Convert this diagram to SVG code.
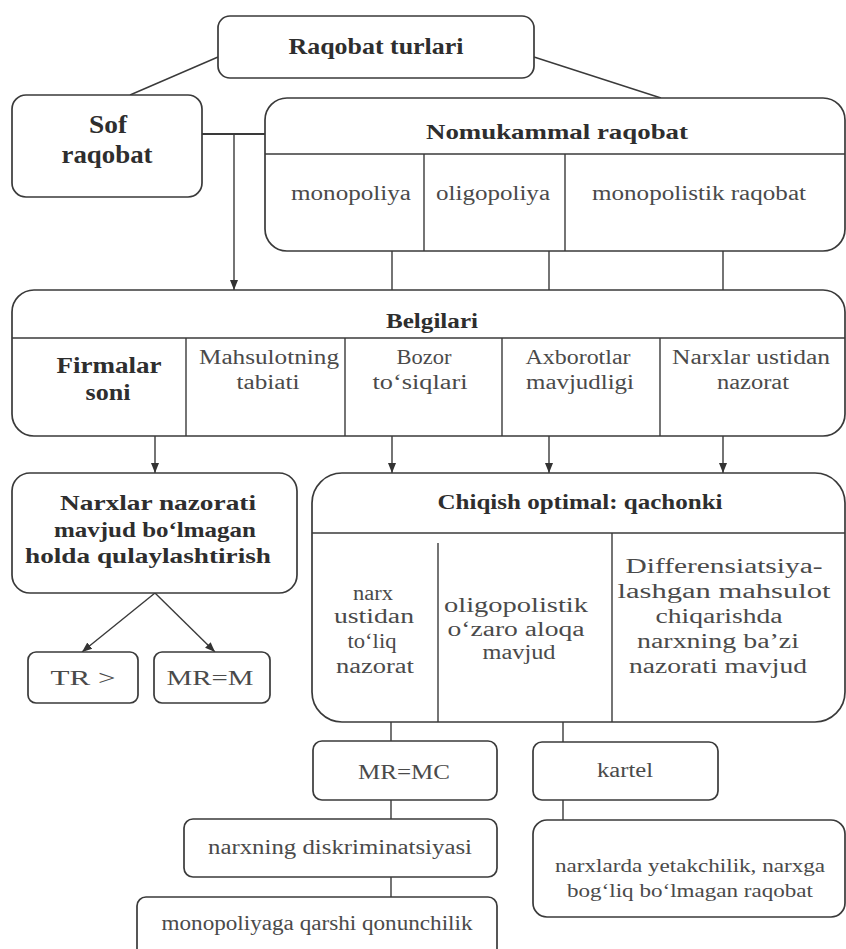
<svg xmlns="http://www.w3.org/2000/svg" width="846" height="949" viewBox="0 0 846 949">
<defs>
<marker id="ah" markerWidth="10" markerHeight="12" refX="10" refY="5" orient="auto" markerUnits="userSpaceOnUse">
<path d="M0,1 L10,5 L0,9 Z" fill="#333"/>
</marker>
<style>
.box{fill:#fff;stroke:#3a3a3a;stroke-width:1.7}
.ln{stroke:#3a3a3a;stroke-width:1.4;fill:none}
text{font-family:"Liberation Serif", "Times New Roman", "DejaVu Serif", serif}
.b{font-weight:bold;fill:#2e2e2e;text-anchor:middle}
.t{fill:#4a4a4a;text-anchor:middle;font-size:20px}
</style>
</defs>
<rect width="846" height="949" fill="#fff"/>
<g id="connectors">
<line class="ln" x1="218" y1="57" x2="130" y2="95"/>
<line class="ln" x1="534" y1="57" x2="661" y2="98"/>
<line class="ln" x1="202" y1="134" x2="265" y2="134" style="stroke-width:2"/>
<line class="ln" x1="234" y1="134" x2="234" y2="290" marker-end="url(#ah)"/>
<line class="ln" x1="392" y1="251" x2="392" y2="290"/>
<line class="ln" x1="549" y1="251" x2="549" y2="290"/>
<line class="ln" x1="723" y1="251" x2="723" y2="290"/>
<line class="ln" x1="155" y1="436" x2="155" y2="473" marker-end="url(#ah)"/>
<line class="ln" x1="392" y1="436" x2="392" y2="473" marker-end="url(#ah)"/>
<line class="ln" x1="549" y1="436" x2="549" y2="473" marker-end="url(#ah)"/>
<line class="ln" x1="723" y1="436" x2="723" y2="473" marker-end="url(#ah)"/>
<line class="ln" x1="155" y1="593" x2="82" y2="652" marker-end="url(#ah)"/>
<line class="ln" x1="155" y1="593" x2="215" y2="652" marker-end="url(#ah)"/>
<line class="ln" x1="391" y1="722" x2="391" y2="741"/>
<line class="ln" x1="563" y1="722" x2="563" y2="742"/>
<line class="ln" x1="391" y1="800" x2="391" y2="819"/>
<line class="ln" x1="563" y1="800" x2="563" y2="820"/>
<line class="ln" x1="391" y1="877" x2="391" y2="897"/>
</g>
<g id="raqobat-turlari">
<rect class="box" x="218" y="16" width="316" height="62" rx="12"/>
<text class="b" x="376" y="54" font-size="23" textLength="175" lengthAdjust="spacingAndGlyphs">Raqobat turlari</text>
</g>
<g id="sof-raqobat">
<rect class="box" x="12" y="95" width="190" height="102" rx="14"/>
<text class="b" x="108" y="133" font-size="25" textLength="38" lengthAdjust="spacingAndGlyphs">Sof</text>
<text class="b" x="107" y="163" font-size="25" textLength="91" lengthAdjust="spacingAndGlyphs">raqobat</text>
</g>
<g id="nomukammal">
<rect class="box" x="265" y="98" width="580" height="153" rx="22"/>
<line class="ln" x1="265" y1="154" x2="845" y2="154"/>
<line class="ln" x1="424" y1="154" x2="424" y2="251"/>
<line class="ln" x1="565" y1="154" x2="565" y2="251"/>
<text class="b" x="557" y="139" font-size="22" textLength="262" lengthAdjust="spacingAndGlyphs">Nomukammal raqobat</text>
<text class="t" x="351" y="200" textLength="120" lengthAdjust="spacingAndGlyphs">monopoliya</text>
<text class="t" x="493" y="200" textLength="114" lengthAdjust="spacingAndGlyphs">oligopoliya</text>
<text class="t" x="699" y="200" textLength="214" lengthAdjust="spacingAndGlyphs">monopolistik raqobat</text>
</g>
<g id="belgilari">
<rect class="box" x="12" y="290" width="833" height="146" rx="22"/>
<line class="ln" x1="12" y1="338" x2="845" y2="338"/>
<line class="ln" x1="186" y1="338" x2="186" y2="436"/>
<line class="ln" x1="345" y1="338" x2="345" y2="436"/>
<line class="ln" x1="502" y1="338" x2="502" y2="436"/>
<line class="ln" x1="660" y1="338" x2="660" y2="436"/>
<text class="b" x="432" y="328" font-size="20" textLength="92" lengthAdjust="spacingAndGlyphs">Belgilari</text>
<text class="b" x="109" y="373" font-size="23" textLength="105" lengthAdjust="spacingAndGlyphs">Firmalar</text>
<text class="b" x="108" y="400" font-size="23" textLength="45" lengthAdjust="spacingAndGlyphs">soni</text>
<text class="t" x="269" y="364" textLength="140" lengthAdjust="spacingAndGlyphs">Mahsulotning</text>
<text class="t" x="268" y="389" textLength="63" lengthAdjust="spacingAndGlyphs">tabiati</text>
<text class="t" x="424" y="364" textLength="55" lengthAdjust="spacingAndGlyphs">Bozor</text>
<text class="t" x="420" y="389" textLength="95" lengthAdjust="spacingAndGlyphs">to‘siqlari</text>
<text class="t" x="578" y="364" textLength="105" lengthAdjust="spacingAndGlyphs">Axborotlar</text>
<text class="t" x="580" y="389" textLength="108" lengthAdjust="spacingAndGlyphs">mavjudligi</text>
<text class="t" x="751" y="364" textLength="158" lengthAdjust="spacingAndGlyphs">Narxlar ustidan</text>
<text class="t" x="753" y="389" textLength="72" lengthAdjust="spacingAndGlyphs">nazorat</text>
</g>
<g id="narxlar-nazorati">
<rect class="box" x="12" y="473" width="285" height="120" rx="18"/>
<text class="b" x="158" y="510" font-size="21" textLength="196" lengthAdjust="spacingAndGlyphs">Narxlar nazorati</text>
<text class="b" x="155" y="537" font-size="21" textLength="202" lengthAdjust="spacingAndGlyphs">mavjud bo‘lmagan</text>
<text class="b" x="148" y="563" font-size="21" textLength="246" lengthAdjust="spacingAndGlyphs">holda qulaylashtirish</text>
</g>
<g id="chiqish">
<rect class="box" x="312" y="473" width="533" height="249" rx="30"/>
<line class="ln" x1="312" y1="533" x2="845" y2="533"/>
<line class="ln" x1="438" y1="543" x2="438" y2="722"/>
<line class="ln" x1="612" y1="533" x2="612" y2="722"/>
<text class="b" x="580" y="509" font-size="21" textLength="285" lengthAdjust="spacingAndGlyphs">Chiqish optimal: qachonki</text>
<text class="t" x="373" y="600" textLength="40" lengthAdjust="spacingAndGlyphs">narx</text>
<text class="t" x="374" y="623" textLength="80" lengthAdjust="spacingAndGlyphs">ustidan</text>
<text class="t" x="372" y="648" textLength="49" lengthAdjust="spacingAndGlyphs">to‘liq</text>
<text class="t" x="375" y="673" textLength="78" lengthAdjust="spacingAndGlyphs">nazorat</text>
<text class="t" x="516" y="612" textLength="144" lengthAdjust="spacingAndGlyphs">oligopolistik</text>
<text class="t" x="516" y="636" textLength="137" lengthAdjust="spacingAndGlyphs">o‘zaro aloqa</text>
<text class="t" x="519" y="659" textLength="73" lengthAdjust="spacingAndGlyphs">mavjud</text>
<text class="t" x="724" y="573" textLength="197" lengthAdjust="spacingAndGlyphs">Differensiatsiya-</text>
<text class="t" x="724" y="598" textLength="213" lengthAdjust="spacingAndGlyphs">lashgan mahsulot</text>
<text class="t" x="719" y="623" textLength="127" lengthAdjust="spacingAndGlyphs">chiqarishda</text>
<text class="t" x="718" y="648" textLength="162" lengthAdjust="spacingAndGlyphs">narxning ba’zi</text>
<text class="t" x="718" y="673" textLength="178" lengthAdjust="spacingAndGlyphs">nazorati mavjud</text>
</g>
<g id="tr">
<rect class="box" x="28" y="652" width="110" height="51" rx="8"/>
<text class="t" x="83" y="685" textLength="65" lengthAdjust="spacingAndGlyphs">TR &gt;</text>
</g>
<g id="mr-m">
<rect class="box" x="154" y="652" width="116" height="51" rx="8"/>
<text class="t" x="210" y="685" textLength="87" lengthAdjust="spacingAndGlyphs">MR=M</text>
</g>
<g id="mr-mc">
<rect class="box" x="313" y="741" width="184" height="59" rx="9"/>
<text class="t" x="404" y="779" textLength="92" lengthAdjust="spacingAndGlyphs">MR=MC</text>
</g>
<g id="kartel">
<rect class="box" x="533" y="742" width="185" height="58" rx="9"/>
<text class="t" x="625" y="777" textLength="56" lengthAdjust="spacingAndGlyphs">kartel</text>
</g>
<g id="diskriminatsiya">
<rect class="box" x="184" y="819" width="313" height="58" rx="9"/>
<text class="t" x="340" y="854" textLength="264" lengthAdjust="spacingAndGlyphs">narxning diskriminatsiyasi</text>
</g>
<g id="yetakchilik">
<rect class="box" x="533" y="820" width="312" height="97" rx="14"/>
<text class="t" x="690" y="872" style="font-size:19px" textLength="270" lengthAdjust="spacingAndGlyphs">narxlarda yetakchilik, narxga</text>
<text class="t" x="690" y="897" style="font-size:19px" textLength="246" lengthAdjust="spacingAndGlyphs">bog‘liq bo‘lmagan raqobat</text>
</g>
<g id="qonunchilik">
<rect class="box" x="137" y="897" width="360" height="70" rx="9"/>
<text class="t" x="317" y="930" textLength="311" lengthAdjust="spacingAndGlyphs">monopoliyaga qarshi qonunchilik</text>
</g>
</svg>
